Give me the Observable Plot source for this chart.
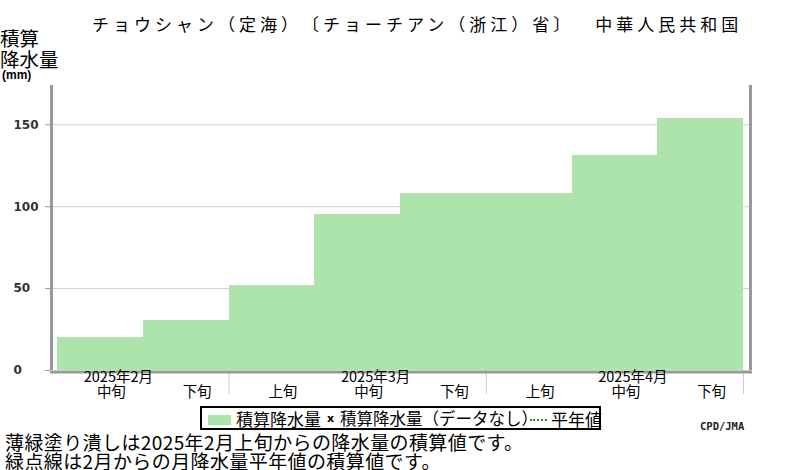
<!DOCTYPE html>
<html><head><meta charset="utf-8">
<script src="https://cdn.jsdelivr.net/npm/d3@7"></script>
<script src="https://cdn.jsdelivr.net/npm/@observablehq/plot@0.6"></script>
<style>
body{margin:0;background:#fff;font-family:"Noto Sans CJK JP",sans-serif;color:#000;text-spacing-trim:space-all;}
#wrap{position:relative;width:800px;height:470px;overflow:hidden;background:#fff;}
.abs{position:absolute;white-space:nowrap;line-height:1;}
</style></head><body>
<div id="wrap">
  <div id="chart" class="abs" style="left:0;top:0"></div>
  <div class="abs" style="left:92px;top:15px;font-size:17px;letter-spacing:4px">チョウシャン（定海）〔チョーチアン（浙江）省〕　中華人民共和国</div>
  <div class="abs" style="left:0;top:27px;font-size:19.5px;line-height:21px">積算<br>降水量</div>
  <div class="abs" style="left:2px;top:69px;font-size:12px;font-weight:bold;font-family:'Liberation Sans',sans-serif">(mm)</div>
  <div class="abs" style="left:200px;top:406px;width:397px;height:20px;border:2px solid #000"></div>
  <div class="abs" style="left:208px;top:415px;width:23px;height:10px;background:#ace4ac"></div>
  <div class="abs" style="left:236px;top:409.5px;font-size:17px">積算降水量</div>
  <div class="abs" style="left:327px;top:413px;font-size:11px;font-weight:bold;font-family:'DejaVu Sans',sans-serif">x</div>
  <div class="abs" style="left:340px;top:409.5px;font-size:16.5px">積算降水量（データなし）</div>
  <div class="abs" style="left:530px;top:419px;width:17px;height:0;border-top:2px dotted #2a8a2a"></div>
  <div class="abs" style="left:551px;top:409.5px;font-size:17px">平年値</div>
  <div class="abs" style="left:700px;top:421px;font-size:10.5px;font-weight:bold;font-family:'DejaVu Sans Mono',monospace;color:#222">CPD/JMA</div>
  <div class="abs" style="left:5px;top:431.5px;font-size:19px;line-height:19px;letter-spacing:0.4px">薄緑塗り潰しは2025年2月上旬からの降水量の積算値です。<br>緑点線は2月からの月降水量平年値の積算値です。</div>
</div>
<script>
// Data
const dekadLabels = ["中旬","下旬","上旬","中旬","下旬","上旬","中旬","下旬"];
const cumPrecip   = [20, 30.5, 52, 95.5, 108, 108, 131, 154];
const monthLabels = ["2025年2月","2025年3月","2025年4月"];
const monthLabelIndex = [0, 3, 6];
const monthBoundaries = [2, 5, 8];
const yTicks = [0, 50, 100, 150];
const yMax = 174;

const rows = cumPrecip.map((v, i) => ({i, v, label: dekadLabels[i]}));
const months = monthLabels.map((m, k) => ({m, i: monthLabelIndex[k]}));
const cjk = "'Noto Sans CJK JP', sans-serif";

const chart = Plot.plot({
  width: 800, height: 470,
  marginTop: 85, marginBottom: 100, marginLeft: 50, marginRight: 50,
  x: {domain: [0, rows.length], inset: 7},
  y: {domain: [0, yMax]},
  style: {background: "transparent", fontFamily: cjk},
  marks: [
    Plot.ruleY(yTicks.filter(t => t > 0), {stroke: "#d0d0d0"}),
    Plot.rectY(rows, {x1: "i", x2: d => d.i + 1, y1: 0, y2: "v", fill: "#ace4ac", inset: 0, shapeRendering: "crispEdges"}),
    Plot.axisY({ticks: yTicks, tickSize: 5, tickPadding: 32, textAnchor: "start", label: null,
      stroke: "#999", fill: "#333", fontSize: 12, fontWeight: "bold", fontFamily: "'DejaVu Sans', sans-serif"}),
    Plot.axisX({ticks: monthBoundaries, tickSize: 24, tickFormat: () => "", stroke: "#ccc", label: null}),
    Plot.ruleX([0], {y1: 0, y2: yMax, dx: -6, stroke: "#999", strokeWidth: 3}),
    Plot.ruleX([rows.length], {y1: 0, y2: yMax, dx: 7, stroke: "#999", strokeWidth: 3}),
    Plot.ruleY([0], {stroke: "#999", strokeWidth: 3, dy: 1.5, insetRight: -2}),
    Plot.text(rows, {x: d => d.i + 0.5, text: "label", frameAnchor: "bottom", dy: 26.5, dx: 11, fontSize: 14.5, fill: "#000", fontFamily: cjk}),
    Plot.text(months, {x: d => d.i + 0.5, text: "m", frameAnchor: "bottom", dy: 11.5, dx: 18, fontSize: 14.5, fill: "#000", fontFamily: cjk})
  ]
});
document.getElementById("chart").appendChild(chart);
</script>
</body></html>
